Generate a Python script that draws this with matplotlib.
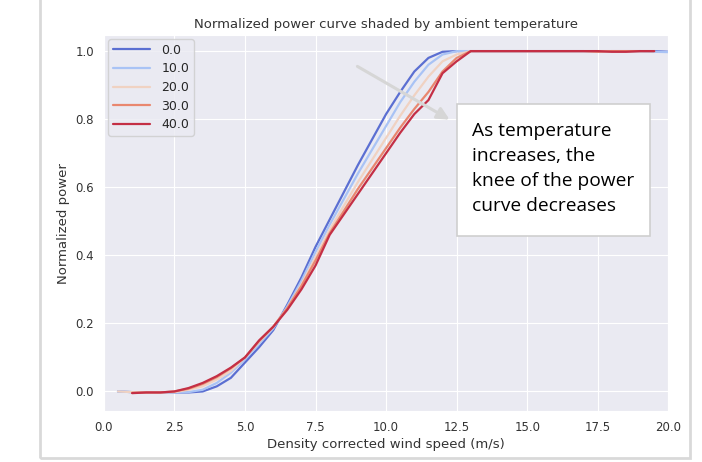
import numpy as np
import matplotlib
matplotlib.use('Agg')
import matplotlib.pyplot as plt
import seaborn as sns
from matplotlib.patches import Rectangle, FancyArrowPatch

sns.set_style('darkgrid')
plt.rcParams['font.family'] = ['DejaVu Sans']

temps = [0.0, 10.0, 20.0, 30.0, 40.0]
colors = ['#5b6fd2', '#a9c3f5', '#f0d2c2', '#e9876f', '#c42f45']

ws_0 = [0.5, 1.0, 1.5, 2.0, 2.5, 3.0, 3.5, 4.0, 4.5, 5.0, 5.5, 6.0, 6.5, 7.0, 7.5, 8.0, 8.5, 9.0, 9.5, 10.0,
        10.5, 11.0, 11.5, 12.0, 12.5, 13.0, 13.5, 14.0, 14.5, 15.0, 15.5, 16.0, 16.5, 17.0, 17.5, 18.0, 18.5,
        19.0, 19.5, 20.0]
pw_0 = [0.0, -0.002, -0.003, -0.003, -0.003, -0.003, 0.0, 0.015, 0.04, 0.085, 0.13, 0.18, 0.255, 0.335, 0.425,
        0.505, 0.585, 0.665, 0.74, 0.815, 0.88, 0.94, 0.98, 0.998, 1.0, 1.0, 1.0, 1.0, 1.0, 1.0, 1.0, 1.0, 1.0,
        1.0, 1.0, 1.0, 1.0, 1.0, 1.0, 0.998]

ws_10 = ws_0
pw_10 = [0.0, -0.002, -0.003, -0.003, -0.003, -0.002, 0.005, 0.025, 0.055, 0.095, 0.14, 0.185, 0.25, 0.325, 0.41,
         0.49, 0.565, 0.64, 0.71, 0.78, 0.85, 0.91, 0.96, 0.99, 1.0, 1.0, 1.0, 1.0, 1.0, 1.0, 1.0, 1.0, 1.0,
         1.0, 0.998, 1.0, 1.0, 1.0, 0.998, 0.997]

ws_20 = ws_0[:-1]
pw_20 = [0.0, -0.002, -0.003, -0.003, -0.002, 0.005, 0.015, 0.035, 0.06, 0.1, 0.145, 0.19, 0.245, 0.315, 0.395,
         0.475, 0.545, 0.615, 0.68, 0.745, 0.81, 0.87, 0.925, 0.97, 0.99, 1.0, 1.0, 1.0, 1.0, 1.0, 1.0, 1.0,
         1.0, 1.0, 1.0, 1.0, 1.0, 1.0, 1.0]

ws_30 = ws_0[1:-1]
pw_30 = [-0.004, -0.003, -0.003, 0.0, 0.008, 0.022, 0.042, 0.068, 0.1, 0.148, 0.19, 0.245, 0.31, 0.385,
         0.465, 0.53, 0.595, 0.655, 0.715, 0.775, 0.83, 0.88, 0.94, 0.98, 1.0, 1.0, 1.0, 1.0, 1.0, 1.0, 1.0,
         1.0, 1.0, 0.998, 1.0, 1.0, 1.0, 1.0]

ws_40 = ws_0[1:-1]
pw_40 = [-0.005, -0.003, -0.003, 0.0, 0.01, 0.025, 0.045, 0.07, 0.1, 0.15, 0.19, 0.24, 0.3, 0.37, 0.46,
         0.52, 0.58, 0.64, 0.7, 0.76, 0.815, 0.856, 0.935, 0.97, 1.0, 1.0, 1.0, 1.0, 1.0, 1.0, 1.0,
         1.0, 1.0, 1.0, 0.998, 0.998, 1.0, 1.0]

series = [(ws_0, pw_0), (ws_10, pw_10), (ws_20, pw_20), (ws_30, pw_30), (ws_40, pw_40)]

fig = plt.figure(figsize=(7.02, 4.62), dpi=100)
ax = fig.add_axes([0.148, 0.110, 0.804, 0.814])

for t, c, (x, y) in zip(temps, colors, series):
    ax.plot(x, y, color=c, lw=1.6, label=str(t))

ax.set_xlim(0, 20)
ax.set_ylim(-0.058, 1.047)
ax.set_xticks(np.arange(0, 20.1, 2.5))
ax.set_yticks([0.0, 0.2, 0.4, 0.6, 0.8, 1.0])
ax.tick_params(labelsize=8.5, colors='#333333')
ax.set_xlabel('Density corrected wind speed (m/s)', fontsize=9.5, color='#333333', labelpad=3)
ax.set_ylabel('Normalized power', fontsize=9.5, color='#333333')
ax.set_title('Normalized power curve shaded by ambient temperature', fontsize=9.5, color='#333333', pad=5)
ax.legend(loc='upper left', fontsize=9, handlelength=3.0, labelspacing=0.45,
          borderpad=0.35, handletextpad=0.9, borderaxespad=0.35)

# slide frame around the screenshot
fig.patches.append(Rectangle((40 / 702, 4 / 462), 650 / 702, 470 / 462, transform=fig.transFigure,
                             fill=False, edgecolor='#d9d9d9', lw=2))

# callout arrow and text box
fig.add_artist(FancyArrowPatch((355 / 702, 1 - 65 / 462), (452 / 702, 1 - 121 / 462),
                               transform=fig.transFigure, arrowstyle='-|>',
                               mutation_scale=18, color='#d6d6d6', lw=2.2))
fig.patches.append(Rectangle((457 / 702, 1 - 236 / 462), 193 / 702, 132 / 462, transform=fig.transFigure,
                             facecolor='white', edgecolor='#cfcfcf', lw=1.2))
fig.text(472 / 702, 1 - 122 / 462, 'As temperature\nincreases, the\nknee of the power\ncurve decreases',
         fontsize=13.8, family=['Open Sans', 'DejaVu Sans'], va='top', ha='left', linespacing=1.5,
         color='black')

fig.savefig('out.png', dpi=100)
